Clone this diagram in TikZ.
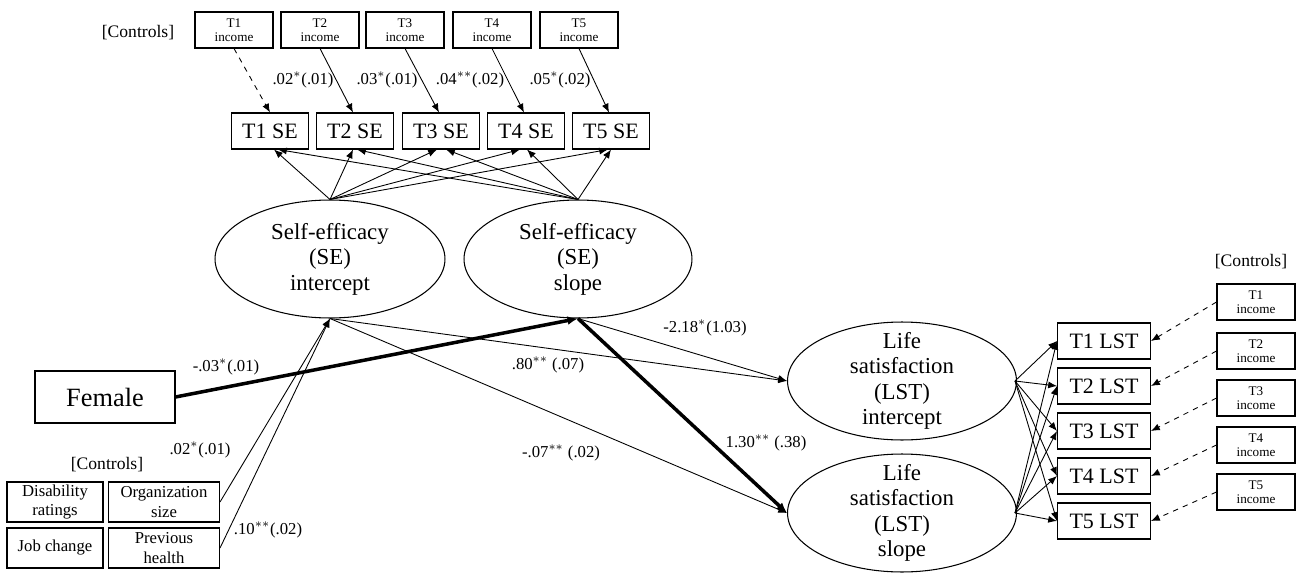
\documentclass[tikz,border=0pt]{standalone}
\usepackage{fontspec}
\setmainfont{Liberation Serif}
\usetikzlibrary{arrows.meta,shapes.geometric}
\begin{document}
\begin{tikzpicture}[x=0.02cm,y=-0.02cm,
  box/.style={draw,line width=0.6pt,inner sep=0pt,align=center},
  inc/.style={box,minimum width=1.56cm,minimum height=0.72cm,font=\fontsize{7.5}{8}\selectfont},
  se/.style={box,minimum width=1.54cm,minimum height=0.72cm,font=\fontsize{12.5}{14}\selectfont},
  lst/.style={box,minimum width=1.86cm,minimum height=0.72cm,font=\fontsize{12.5}{14}\selectfont},
  ctl/.style={box,minimum width=1.92cm,minimum height=0.8cm,font=\fontsize{9.5}{11}\selectfont},
  ctr/.style={box,minimum width=2.22cm,minimum height=0.8cm,font=\fontsize{9.5}{11}\selectfont},
  ell/.style={draw,ellipse,line width=0.6pt,inner sep=0pt,minimum height=2.36cm},
  etxt/.style={align=center,inner sep=0pt,font=\fontsize{13}{14.5}\selectfont},
  lab/.style={font=\fontsize{9.5}{11}\selectfont,inner sep=1pt},
  arr/.style={-{Latex[length=5pt,width=4pt]},line width=0.5pt},
  thk/.style={-{Latex[length=6pt,width=5pt]},line width=2pt},
  dsh/.style={arr,dashed}]
\useasboundingbox (0,0) rectangle (1299,578);
% top controls
\node[lab,font=\fontsize{10}{12}\selectfont] (c1) at (138,33) {[Controls]};
\foreach \i/\x in {1/234,2/320,3/405,4/492,5/579}{
  \node[inc] (ti\i) at (\x,30) {T\i\\income};}
\foreach \i/\x in {1/270,2/355,3/441,4/526,5/611}{
  \node[se] (se\i) at (\x,131) {T\i{} SE};}
\draw[dsh] (ti1.south) -- (se1.north);
\foreach \i in {2,3,4,5}{\draw[arr] (ti\i.south) -- ([xshift=-0.04cm]se\i.north);}
\node[lab] (l2) at (303,80) {.02$^{*}$(.01)};
\node[lab] (l3) at (387,80) {.03$^{*}$(.01)};
\node[lab] (l4) at (470,80) {.04$^{**}$(.02)};
\node[lab] (l5) at (560,80) {.05$^{*}$(.02)};
% SE ellipses
\node[ell,minimum width=4.6cm] (sei) at (330,259) {};
\node[etxt] (seit) at (330,259) {Self-efficacy\\(SE)\\intercept};
\node[ell,minimum width=4.56cm] (ses) at (578,259) {};
\node[etxt] (sest) at (578,259) {Self-efficacy\\(SE)\\slope};
\foreach \i/\d in {1/0.08,2/-0.04,3/-0.08,4/-0.12,5/-0.06}{
  \draw[arr] (sei.north) -- ([xshift=\d cm]se\i.south);}
\foreach \i/\d in {1/0.16,2/0.04,3/0.1,4/0.02,5/0}{
  \draw[arr] (ses.north) -- ([xshift=\d cm]se\i.south);}
% Female
\node[box,minimum width=2.8cm,minimum height=1.04cm,font=\fontsize{15}{18}\selectfont] (fem) at (105,397) {Female};
\draw[thk] (fem.east) -- (ses.south);
\node[lab] (l6) at (226,367) {-.03$^{*}$(.01)};
% bottom controls
\node[lab,font=\fontsize{10}{12}\selectfont] (c2) at (107,465) {[Controls]};
\node[ctl] (dis) at (55,502) {Disability\\ratings};
\node[ctr] (org) at (164,502) {Organization\\size};
\node[ctl] (job) at (55,548) {Job change};
\node[ctr] (prev) at (164,548) {Previous\\health};
\draw[arr] (org.east) -- (sei.south);
\draw[arr] (prev.east) -- (sei.south);
\node[lab] (l7) at (200,450) {.02$^{*}$(.01)};
\node[lab] (l8) at (268,530) {.10$^{**}$(.02)};
% LST ellipses
\node[ell,minimum width=4.58cm] (lsi) at (902,381) {};
\node[etxt] (lsit) at (902,381) {Life\\satisfaction\\(LST)\\intercept};
\node[ell,minimum width=4.58cm] (lss) at (902,513) {};
\node[etxt] (lsst) at (902,513) {Life\\satisfaction\\(LST)\\slope};
\draw[arr] (sei.south) -- (lsi.west);
\draw[arr] (sei.south) -- (lss.west);
\draw[arr] (ses.south) -- (lsi.west);
\draw[thk] (ses.south) -- (lss.west);
\node[lab] (l9) at (705,328) {-2.18$^{*}$(1.03)};
\node[lab] (l10) at (548,365) {.80$^{**}$ (.07)};
\node[lab] (l11) at (561,453) {-.07$^{**}$ (.02)};
\node[lab] (l12) at (766,443) {1.30$^{**}$ (.38)};
% LST boxes and controls
\node[lab,font=\fontsize{10}{12}\selectfont] (c3) at (1251,262) {[Controls]};
\foreach \i/\y in {1/341,2/386,3/431,4/476,5/521}{
  \node[lst] (lb\i) at (1104,\y) {T\i{} LST};
  \draw[arr] ([xshift=-0.04cm]lsi.east) -- (lb\i.west);
  \draw[arr] ([xshift=-0.04cm]lss.east) -- (lb\i.west);}
\foreach \i/\y in {1/302,2/351,3/398,4/445,5/492}{
  \node[inc] (ri\i) at (1256,\y) {T\i\\income};
  \draw[dsh] (ri\i.west) -- (lb\i.east);}
\end{tikzpicture}
\end{document}
